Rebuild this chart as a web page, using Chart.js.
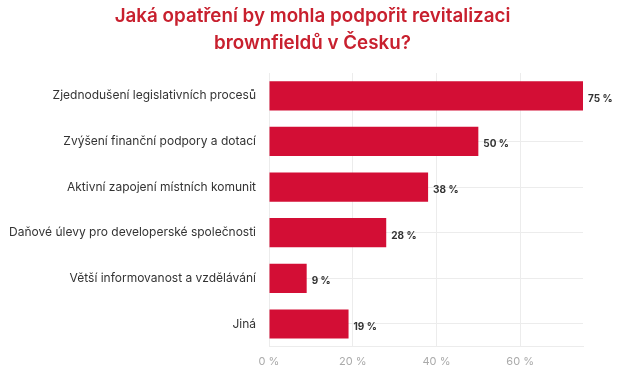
<!DOCTYPE html>
<html>
<head>
<meta charset="utf-8">
<script src="https://cdn.jsdelivr.net/npm/chart.js@4"></script>
<style>
  html, body { margin: 0; padding: 0; background: #fff; }
  #wrap { width: 635px; height: 380px; }
</style>
</head>
<body>
<div id="wrap"><canvas id="chart"></canvas></div>
<script>
const categories = [
    "Zjednodušení legislativních procesů",
    "Zvýšení finanční podpory a dotací",
    "Aktivní zapojení místních komunit",
    "Daňové úlevy pro developerské společnosti",
    "Větší informovanost a vzdělávání",
    "Jiná"
];
const values = [75, 50, 38, 28, 9, 19];
const xTicks = [0, 20, 40, 60];
const titleLines = ["Jaká opatření by mohla podpořit revitalizaci", "brownfieldů v Česku?"];

// popisky hodnot za koncem sloupce
const valueLabels = {
    id: "valueLabels",
    afterDatasetsDraw(chart) {
        const ctx = chart.ctx;
        const meta = chart.getDatasetMeta(0);
        ctx.save();
        ctx.font = "bold 10px Inter";
        ctx.fillStyle = "#333";
        ctx.textAlign = "left";
        ctx.textBaseline = "middle";
        meta.data.forEach((bar, i) => {
            ctx.fillText(values[i] + " %", bar.x + 5, bar.y + 3);
        });
        ctx.restore();
    }
};

// nadpis vycentrovaný na celou šířku plátna
const pageTitle = {
    id: "pageTitle",
    afterDraw(chart) {
        const ctx = chart.ctx;
        ctx.save();
        ctx.font = "600 18.8px Inter";
        ctx.fillStyle = "#c8202e";
        ctx.textAlign = "center";
        ctx.textBaseline = "middle";
        titleLines.forEach((line, i) => {
            ctx.fillText(line, chart.width / 2 - 5, 16 + i * 27);
        });
        ctx.restore();
    }
};

const ctx = document.getElementById("chart").getContext("2d");

new Chart(ctx, {
    type: "bar",
    data: {
        labels: categories,
        datasets: [{
            data: values,
            backgroundColor: "#d30e35",
            barPercentage: 0.8,
            categoryPercentage: 0.8
        }]
    },
    plugins: [valueLabels, pageTitle],
    options: {
        indexAxis: "y",
        responsive: true,
        maintainAspectRatio: false,
        animation: false,
        layout: { padding: { left: 10, right: 52, top: 73, bottom: 4 } },
        plugins: {
            legend: { display: false },
            tooltip: { enabled: false },
            title: { display: false }
        },
        scales: {
            x: {
                min: 0,
                max: 75,
                afterBuildTicks(axis) {
                    axis.ticks = xTicks.map(v => ({ value: v }));
                },
                grid: { color: "#ececec", drawTicks: false },
                border: { color: "#ececec" },
                ticks: {
                    color: "#aaa",
                    font: { family: "Inter", size: 11 },
                    padding: 8,
                    callback: v => v + " %"
                }
            },
            y: {
                afterFit(axis) {
                    axis.width = 259;
                },
                grid: { color: "#ececec", offset: false, drawTicks: false },
                border: { color: "#ececec" },
                ticks: {
                    color: "#333",
                    font: { family: "Inter", size: 12 },
                    padding: 13
                }
            }
        }
    }
});
</script>
</body>
</html>
